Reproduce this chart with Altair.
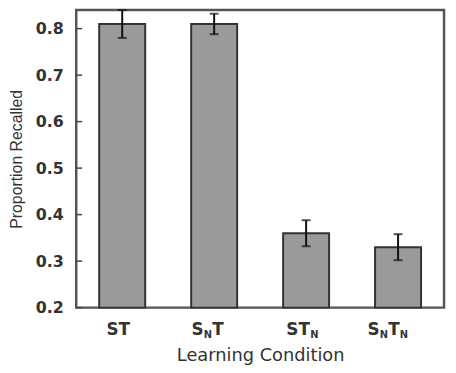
import altair as alt
import pandas as pd

# ---- data ----
conditions = ["ST", "SNT", "STN", "SNTN"]
means = [0.81, 0.81, 0.36, 0.33]
errors = [0.03, 0.022, 0.028, 0.028]
y_ticks = [0.2, 0.3, 0.4, 0.5, 0.6, 0.7, 0.8]

df = pd.DataFrame({"cond": conditions, "mean": means, "err": errors})
df["lo"] = df["mean"] - df["err"]
df["hi"] = df["mean"] + df["err"]
ticks_df = pd.DataFrame({"t": y_ticks})

TXT = "#333333"
xscale = alt.Scale(domain=conditions, paddingInner=0.5, paddingOuter=0.25)
yscale = alt.Scale(domain=[0.2, 0.84], zero=False, nice=False)

x_main = alt.X(
    "cond:N", scale=xscale, sort=conditions,
    axis=alt.Axis(title="Learning Condition", labels=False, ticks=False, domain=False,
                  titleFont="DejaVu Sans", titleFontSize=18, titleFontWeight="normal",
                  titleColor=TXT, titleY=53, titleBaseline="alphabetic"),
)
y_axis = alt.Axis(values=y_ticks, format=".1f", ticks=False, domain=False, grid=False,
                  labelFont="DejaVu Sans", labelFontWeight="bold", labelFontSize=16,
                  labelPadding=13, labelColor=TXT,
                  title="Proportion Recalled", titleFont="Liberation Sans", titleFontSize=16,
                  titleFontWeight="normal", titleColor=TXT, titleX=-52, titleY=150.5,
                  titleAngle=270, titleAlign="center", titleBaseline="bottom")

bars = alt.Chart(df).mark_bar(color="#9a9a9a", stroke="#333333", strokeWidth=2).encode(
    x=x_main,
    y=alt.Y("mean:Q", scale=yscale, axis=y_axis),
    y2=alt.Y2(datum=0.2),
)

err = alt.Chart(df).mark_rule(color="#111111", strokeWidth=2).encode(
    x=alt.X("cond:N", scale=xscale, sort=conditions),
    y=alt.Y("lo:Q", scale=yscale),
    y2="hi:Q",
)
cap_lo = alt.Chart(df).mark_tick(color="#111111", thickness=2, size=9, orient="horizontal").encode(
    x=alt.X("cond:N", scale=xscale, sort=conditions),
    y=alt.Y("lo:Q", scale=yscale),
)
cap_hi = alt.Chart(df).mark_tick(color="#111111", thickness=2, size=9, orient="horizontal").encode(
    x=alt.X("cond:N", scale=xscale, sort=conditions),
    y=alt.Y("hi:Q", scale=yscale),
)

tick_marks = alt.Chart(ticks_df).mark_rule(color="#444444", strokeWidth=1.5).encode(
    y=alt.Y("t:Q", scale=yscale),
    x=alt.value(0),
    x2=alt.value(6),
)

# category labels with subscript N (layout offsets are styling only)
label_parts = {
    "ST": [("ST", -16, False)],
    "SNT": [("S", -23, False), ("N", -10.5, True), ("T", -2, False)],
    "STN": [("ST", -20, False), ("N", 4.3, True)],
    "SNTN": [("S", -31, False), ("N", -18.5, True), ("T", -10, False), ("N", 1.8, True)],
}
label_layers = []
for cond in conditions:
    for text, dx, sub in label_parts[cond]:
        label_layers.append(
            alt.Chart(df).transform_filter(alt.datum.cond == cond).mark_text(
                text=text, dx=dx, dy=31 if sub else 28, align="left", baseline="alphabetic",
                font="DejaVu Sans", fontWeight="bold", fontSize=10 if sub else 17, color=TXT,
            ).encode(
                x=alt.X("cond:N", scale=xscale, sort=conditions),
                y=alt.Y(datum=0.2, scale=yscale),
            )
        )

chart = alt.layer(bars, err, cap_lo, cap_hi, tick_marks, *label_layers).properties(
    width=372, height=301,
    background="white",
    autosize=alt.AutoSizeParams(type="none"),
    padding={"left": 69, "top": 0, "right": 4, "bottom": 56},
).configure_view(stroke="#555555", strokeWidth=2.5)

chart.save("out.html", embed_options={"renderer": "svg", "actions": False})
